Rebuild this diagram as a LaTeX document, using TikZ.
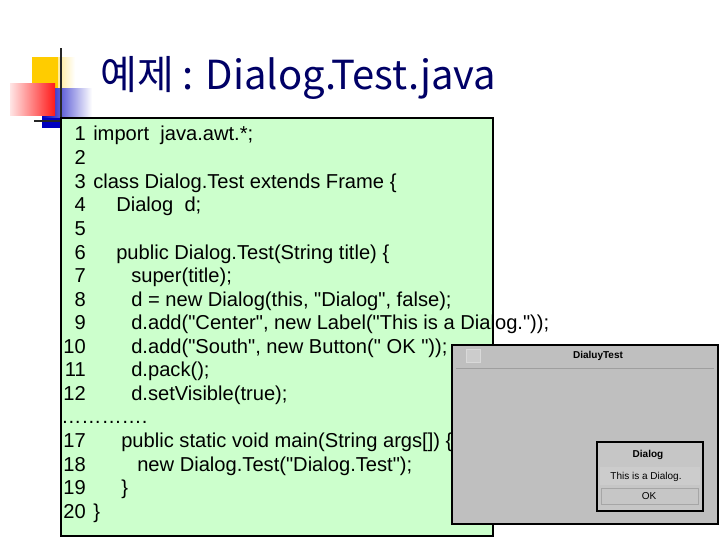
\documentclass[tikz,border=0pt]{standalone}
\usepackage{fontspec}
\setmainfont[Ligatures=TeXOff]{Liberation Sans}
\newfontfamily\kr{Noto Sans CJK KR}
\newcommand\qq{"}
\definecolor{gold}{RGB}{255,204,0}
\definecolor{codebg}{RGB}{204,255,204}
\begin{document}
\begin{tikzpicture}[x=0.75pt,y=-0.75pt,
  code/.style={anchor=base west,inner sep=0pt,font=\fontsize{15.1}{17}\selectfont},
  num/.style={anchor=base east,inner sep=0pt,font=\fontsize{15.1}{17}\selectfont},
  small/.style={inner sep=0pt,font=\fontsize{7.5}{9}\selectfont\bfseries}]
\useasboundingbox (0,0) rectangle (720,540);
% logo
\shade[left color=gold,right color=white] (32,57) rectangle (75,90);
\fill[gold] (32,57) rectangle (58,90);
\shade[left color=blue!75!black,right color=white] (42,88) rectangle (92,118);
\fill[blue!75!black] (42,118) rectangle (60,128);
\shade[left color=red!10,right color=red!90] (10,83) rectangle (55,115);
\draw[line width=1.5pt,black!85] (61,48) -- (61,122);
\draw[line width=1.5pt,black!85] (34,121) -- (100,121);
% title
\node[anchor=base west,inner sep=0pt,text=black!60!blue,font=\kr\fontsize{30}{36}\selectfont] (title) at (100,89) {예제 : Dialog.Test.java};
% code box
\draw[fill=codebg,line width=1.5pt] (61,118) rectangle (493,536);
\foreach \n/\y/\x/\t in {1/140/93/{import~ java.awt.*;},2/164/93/{},3/188/93/{class Dialog.Test extends Frame \{},4/211/116/{Dialog~ d;},5/235/93/{},6/259/116/{public Dialog.Test(String title) \{},7/282/131/{super(title);},8/306/131/{d = new Dialog(this, \qq Dialog\qq, false);},9/329/131/{d.add(\qq Center\qq, new Label(\qq This is a Dialog.\qq));},10/353/131/{d.add(\qq South\qq, new Button(\qq~OK \qq));},11/376/131/{d.pack();},12/400/131/{d.setVisible(true);},17/447/121/{public static void main(String args[]) \{},18/471/137/{new Dialog.Test(\qq Dialog.Test\qq);},19/494/121/{\}},20/518/93/{\}}}{
  \node[num] (n\n) at (86,\y) {\n};
  \node[code] (c\n) at (\x,\y) {\t};
}
\node[code] (dots) at (61,423) {………….};
% window screenshot
\draw[fill=gray!50,line width=1.2pt] (452,345) rectangle (718,524);
\draw[gray!75] (456,368) -- (714,368);
\draw[gray!30,fill=gray!40] (466,349) rectangle (480,362);
\node[small] (wt) at (598,356) {DialuyTest};
\draw[fill=gray!45,line width=1.5pt] (597,442) rectangle (703,511);
\fill[gray!40] (600,467) rectangle (700,485);
\node[small] (dt) at (648,455) {Dialog};
\node[inner sep=0pt,font=\fontsize{7.5}{9}\selectfont] (dl) at (646,477) {This is a Dialog.};
\draw[gray!70,fill=gray!45] (601,488) rectangle (698,504);
\node[inner sep=0pt,font=\fontsize{7.5}{9}\selectfont] (ok) at (649,496) {OK};
\end{tikzpicture}
\end{document}
